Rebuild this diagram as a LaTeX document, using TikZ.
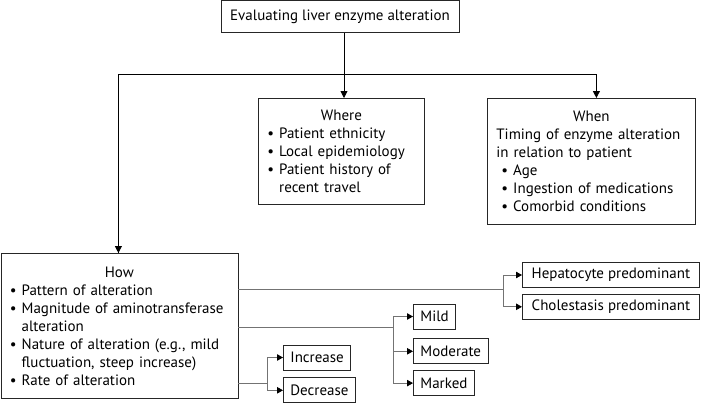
\documentclass[tikz,border=0pt]{standalone}
\usepackage{fontspec}
\setmainfont{PT Sans}
\usetikzlibrary{arrows.meta,positioning}

\newcommand{\itm}{\textbullet~}
\newcommand{\cont}{\phantom{\textbullet~}}
\newcommand{\head}[1]{\makebox[\hsize]{#1}}

\begin{document}
\begin{tikzpicture}[
    x=1pt, y=-1pt,
    font=\fontsize{15}{18}\selectfont,
    box/.style={rectangle, draw=black!85, line width=0.8pt, inner xsep=7pt, inner ysep=4pt},
    bigbox/.style={box, align=left, inner xsep=9pt, inner ysep=6pt, anchor=north west},
    leaf/.style={box, minimum height=25pt},
    link/.style={draw=black!55, line width=0.8pt},
    arr/.style={line width=0.9pt, -{Triangle[length=7pt,width=7pt]}},
    larr/.style={link, -{Triangle[length=6pt,width=6.5pt,color=black]}}
]
\useasboundingbox (0,0) rectangle (701,402);

% Nodes
\node[box, minimum height=32pt, minimum width=238pt] (top) at (340,16.5) {Evaluating liver enzyme alteration};

\node[bigbox, text width=148pt, minimum height=106pt] (where) at (258,98)
    {\head{Where}\\ \itm Patient ethnicity\\ \itm Local epidemiology\\ \itm Patient history of\\ \cont recent travel};
\node[bigbox, text width=190pt, minimum height=126pt] (when) at (487,98)
    {\head{When}\\ Timing of enzyme alteration\\ in relation to patient\\ \hspace*{5pt}\itm Age\\ \hspace*{5pt}\itm Ingestion of medications\\ \hspace*{5pt}\itm Comorbid conditions};
\node[bigbox, text width=219pt, minimum height=145pt] (how) at (0.5,253)
    {\head{How}\\ \itm Pattern of alteration\\ \itm Magnitude of aminotransferase\\ \cont alteration\\ \itm Nature of alteration (e.g., mild\\ \cont fluctuation, steep increase)\\ \itm Rate of alteration};

\node[leaf, anchor=west, minimum width=177pt] (hep) at (522,275) {Hepatocyte predominant};
\node[leaf, below=6pt of hep.south west, anchor=north west, minimum width=177pt] (chol) {Cholestasis predominant};

\node[leaf, anchor=west] (mild) at (413,316.5) {Mild};
\node[leaf, below=9pt of mild.south west, anchor=north west] (moderate) {Moderate};
\node[leaf, below=6pt of moderate.south west, anchor=north west] (marked) {Marked};

\node[leaf, anchor=west] (incr) at (283,357.5) {Increase};
\node[leaf, below=7pt of incr.south west, anchor=north west] (decr) {Decrease};

% Junctions
\coordinate (hub) at (344,74);
\coordinate (j1) at (503,289);
\coordinate (j2) at (393,327);
\coordinate (j3) at (267,383);

% Arrows
\draw[arr] (top.south -| hub) -- (where.north -| hub);
\draw[line width=0.9pt] (hub) -| ([xshift=-1pt]how.north);
\draw[arr] ([xshift=-1pt]how.north |- hub) -- ([xshift=-1pt]how.north);
\draw[arr] (hub) -| ([xshift=5pt]when.north);

\draw[link] (how.east |- j1) -- (j1);
\draw[larr] (j1) |- (hep.west);
\draw[larr] (j1) |- (chol.west);

\draw[link] (how.east |- j2) -- (j2);
\draw[larr] (j2) |- (mild.west);
\draw[larr] (j2) |- (moderate.west);
\draw[larr] (j2) |- (marked.west);

\draw[link] (how.east |- j3) -- (j3);
\draw[larr] (j3) |- (incr.west);
\draw[larr] (j3) |- (decr.west);
\end{tikzpicture}
\end{document}
